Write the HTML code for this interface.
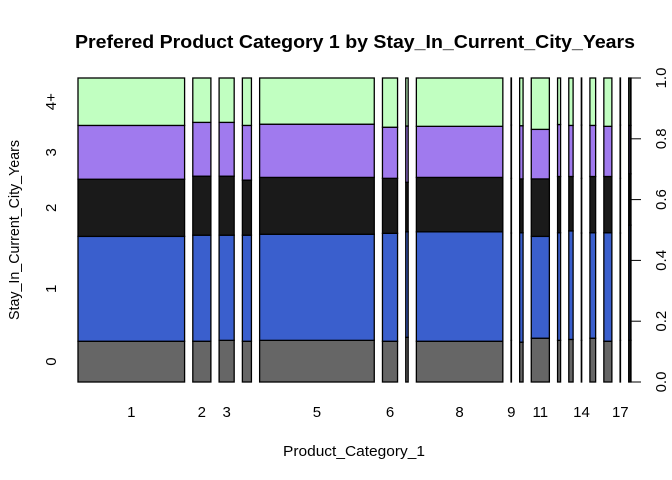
<!DOCTYPE html>
<html><head><meta charset="utf-8"><style>
body{margin:0;background:#fff}
svg{display:block;font-family:"Liberation Sans",Arial,sans-serif}
</style></head><body>
<svg id="c" width="672" height="480" xmlns="http://www.w3.org/2000/svg">
<text x="355" y="48" text-anchor="middle" font-weight="bold" font-size="18" textLength="560" lengthAdjust="spacingAndGlyphs">Prefered Product Category 1 by Stay_In_Current_City_Years</text>
<text x="354" y="456" text-anchor="middle" font-size="15" textLength="142" lengthAdjust="spacingAndGlyphs">Product_Category_1</text>
<text transform="translate(19,230) rotate(-90)" text-anchor="middle" font-size="15" textLength="180" lengthAdjust="spacingAndGlyphs">Stay_In_Current_City_Years</text>
<g id="bars"></g><g id="axes"></g>
</svg>
<script>
const categories=["1","2","3","4","5","6","7","8","9","10","11","12","13","14","15","16","17","18"];
const xLabelsShown=["1","2","3","5","6","8","9","11","14","17"];
const widths=[106,18,15,9,114,15,2.4,86,0.4,3.4,18,3,4.3,0.4,5.7,8,0.4,2.3];
const levels=["0","1","2","3","4+"];
const cum0=[0.134,0.134,0.137,0.134,0.137,0.134,0.147,0.134,0.137,0.131,0.144,0.137,0.140,0.137,0.144,0.134,0.137,0.137];
const cum1=[0.479,0.483,0.483,0.483,0.486,0.489,0.494,0.494,0.49,0.491,0.479,0.491,0.497,0.49,0.491,0.491,0.49,0.516];
const cum2=[0.667,0.677,0.677,0.664,0.673,0.670,0.657,0.673,0.67,0.668,0.668,0.676,0.676,0.67,0.676,0.676,0.67,0.685];
const cum3=[0.844,0.854,0.854,0.844,0.848,0.838,0.842,0.841,0.845,0.843,0.831,0.847,0.844,0.845,0.844,0.841,0.845,0.844];
const yTicks=["0.0","0.2","0.4","0.6","0.8","1.0"];
const colors=["#666666","#3a5fcd","#1a1a1a","#a07aee","#c1ffc1"];
const NS="http://www.w3.org/2000/svg";
const X0=78,X1=631,Y0=382,Y1=78;
const y=f=>Y0-(Y0-Y1)*f;
const total=widths.reduce((a,b)=>a+b,0);
const gap=8.2;
const scale=(X1-X0-gap*(categories.length-1))/total;
const bars=document.getElementById('bars'),axes=document.getElementById('axes');
function mk(t,a,p){const e=document.createElementNS(NS,t);for(const k in a)e.setAttribute(k,a[k]);(p||bars).appendChild(e);return e;}
let x=X0;const centers={};
categories.forEach((c,i)=>{
  const w=widths[i]*scale;
  const b=[0,cum0[i],cum1[i],cum2[i],cum3[i],1];
  for(let j=0;j<5;j++){
    const r=mk('rect',{x:x,y:y(b[j+1]),width:Math.max(w,0.1),height:y(b[j])-y(b[j+1]),fill:colors[j],stroke:'#000','stroke-width':1.3});
    
    
  }
  centers[c]=x+w/2;x+=w+gap;
});
xLabelsShown.forEach(c=>{
  const t=mk('text',{x:centers[c],y:417,'text-anchor':'middle','font-size':15},axes);
  t.textContent=c;
  
  
});
const b0=[0,cum0[0],cum1[0],cum2[0],cum3[0],1];
levels.forEach((l,j)=>{
  const yc=(y(b0[j])+y(b0[j+1]))/2;
  const t=mk('text',{transform:`translate(56,${yc}) rotate(-90)`,'text-anchor':'middle','font-size':15},axes);
  t.textContent=l;
  
  
});
const al=mk('line',{x1:630,x2:630,y1:Y0,y2:Y1,stroke:'#000'},axes);


yTicks.forEach(v=>{
  const yy=y(parseFloat(v));
  const tk=mk('line',{x1:630,x2:641,y1:yy,y2:yy,stroke:'#000'},axes);
  
  
  const t=mk('text',{transform:`translate(666,${yy}) rotate(-90)`,'text-anchor':'middle','font-size':15},axes);
  t.textContent=v;
  
  
});
</script>
</body></html>
